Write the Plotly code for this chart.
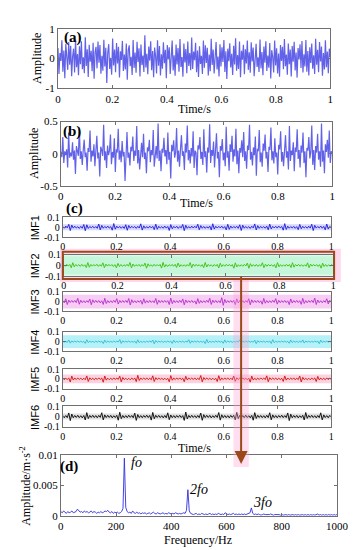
import numpy as np
import plotly.graph_objects as go

# ---------------- data (values read/estimated from the picture) ----------------
sig_a = [0.35,-0.52,0.18,-0.08,0.61,-0.44,0.27,-0.66,0.49,0.12,-0.38,0.55,-0.21,0.43,-0.59,0.07,0.33,-0.47,0.64,-0.29,
 0.15,-0.56,0.41,-0.19,0.58,-0.36,0.04,-0.49,0.71,-0.25,0.31,-0.62,0.46,-0.11,0.26,-0.43,0.53,-0.68,0.22,0.39,
 -0.33,0.57,-0.14,0.45,-0.51,0.09,-0.41,0.63,-0.27,0.36,-0.82,0.19,0.48,-0.35,0.02,-0.54,0.67,-0.23,0.3,-0.46,
 0.52,-0.17,0.39,-0.64,0.24,-0.05,0.59,-0.42,0.13,-0.37,0.5,-0.71,0.28,0.44,-0.26,0.06,-0.55,0.62,-0.32,0.2,
 -0.48,0.56,-0.12,0.34,-0.6,0.47,-0.22,0.1,-0.45,0.78,-0.3,0.16,-0.53,0.4,-0.07,0.58,-0.39,0.25,-0.63,0.37,
 0.08,-0.5,0.61,-0.24,0.42,-0.57,0.14,-0.34,0.54,-0.16,0.29,-0.66,0.45,-0.03,0.38,-0.52,0.21,0.6,-0.4,0.11,
 -0.58,0.47,-0.2,0.35,-0.44,0.65,-0.28,0.05,-0.61,0.5,-0.13,0.32,-0.49,0.57,-0.25,0.18,-0.39,0.7,-0.35,0.23,
 -0.06,0.53,-0.46,0.27,-0.62,0.41,-0.18,0.09,-0.52,0.6,-0.31,0.44,-0.15,0.36,-0.57,0.13,-0.43,0.66,-0.22,0.3,
 -0.5,0.19,0.55,-0.37,0.07,-0.6,0.48,-0.27,0.38,-0.12,0.62,-0.45,0.24,-0.69,0.33,-0.09,0.51,-0.3,0.16,-0.55,
 0.43,-0.2,0.68,-0.41,0.12,-0.35,0.57,-0.63,0.26,-0.04,0.46,-0.53,0.31,-0.17,0.6,-0.38,0.21,-0.48,0.54,-0.1,
 0.37,-0.59,0.15,0.49,-0.28,0.04,-0.45,0.64,-0.33,0.22,-0.56,0.4,-0.14,0.58,-0.42,0.1,-0.31,0.52,-0.67,0.28,
 0.06,-0.47,0.6,-0.23,0.34,-0.5,0.17,-0.61,0.45,-0.08,0.39,-0.36,0.65,-0.26,0.13,-0.54,0.5,-0.19,0.3,-0.6,
 0.42,-0.11,0.56,-0.4,0.2,-0.64,0.35,-0.03,0.48,-0.32,0.59,-0.47,0.14,-0.27,0.62,-0.44,0.25,-0.57,0.38,-0.15,
 0.5,-0.34,0.11,-0.52,0.66,-0.21,0.29,-0.46,0.55,-0.1,0.4,-0.58,0.18,-0.37,0.61,-0.29,0.23,-0.49,0.33,0.05]

sig_b = [0.03,-0.05,0.26,-0.14,0.04,-0.02,0.07,-0.21,0.33,-0.06,0.02,-0.04,0.18,-0.09,0.05,-0.31,0.12,0.03,-0.03,0.41,
 -0.08,0.04,-0.17,0.06,0.22,-0.05,0.02,-0.26,0.09,0.03,0.36,-0.12,0.05,-0.04,0.15,-0.19,0.04,0.28,-0.07,0.02,
 -0.35,0.11,0.06,-0.03,0.45,-0.1,0.04,-0.22,0.13,-0.02,0.05,0.3,-0.16,0.03,-0.06,0.24,-0.28,0.07,0.02,0.39,
 -0.09,0.05,-0.13,0.2,-0.04,0.03,-0.42,0.08,0.34,-0.06,0.02,-0.18,0.11,0.04,0.27,-0.11,0.05,-0.03,0.43,-0.15,
 0.06,-0.24,0.03,0.17,-0.05,0.31,-0.08,0.02,-0.3,0.1,0.04,0.22,-0.13,0.06,-0.02,0.37,-0.2,0.03,0.12,-0.07,
 0.47,-0.11,0.05,-0.27,0.08,0.02,0.25,-0.04,0.06,-0.16,0.33,-0.09,0.03,-0.38,0.14,0.04,0.21,-0.06,0.02,0.4,
 -0.12,0.05,-0.2,0.07,0.29,-0.03,0.04,-0.25,0.16,0.02,0.44,-0.1,0.06,-0.15,0.09,-0.04,0.35,-0.22,0.05,0.02,
 -0.33,0.13,0.07,0.26,-0.08,0.03,-0.17,0.38,-0.05,0.04,-0.29,0.1,0.02,0.46,-0.14,0.06,-0.03,0.19,-0.21,0.05,
 0.32,-0.07,0.03,-0.36,0.12,0.05,0.23,-0.1,0.02,-0.19,0.42,-0.06,0.04,-0.26,0.15,0.03,0.28,-0.12,0.07,-0.04,
 0.39,-0.16,0.05,-0.3,0.09,0.02,0.21,-0.05,0.34,-0.11,0.04,-0.23,0.13,0.06,0.45,-0.09,0.03,-0.18,0.1,-0.02,
 0.27,-0.34,0.08,0.04,0.37,-0.13,0.02,-0.2,0.16,0.05,0.3,-0.07,0.03,-0.28,0.11,0.06,0.41,-0.1,0.04,-0.15,
 0.24,-0.05,0.02,-0.32,0.14,0.07,0.35,-0.12,0.03,-0.19,0.08,0.29,-0.06,0.04,-0.24,0.43,-0.11,0.05,-0.02,0.18,
 -0.27,0.1,0.03,0.38,-0.08,0.06,-0.21,0.13,0.02,0.33,-0.14,0.04,-0.36,0.09,0.05,0.26,-0.07,0.03,0.44,-0.17,
 0.06,-0.25,0.12,0.02,0.31,-0.09,0.04,-0.2,0.47,-0.12,0.05,-0.3,0.15,0.03,0.22,-0.06,0.36,-0.14,0.04,0.02]

imf1 = [0.008,-0.01,0.012,-0.007,0.03,-0.034,0.022,-0.009,0.011,-0.008,0.006,-0.012,0.009,-0.01,0.028,-0.036,0.025,-0.012,0.008,-0.006,
 0.01,-0.009,0.007,-0.011,0.033,-0.027,0.019,-0.01,0.008,-0.007,0.012,-0.009,0.006,-0.03,0.038,-0.02,0.011,-0.008,0.009,-0.01,
 0.007,-0.012,0.026,-0.031,0.018,-0.009,0.01,-0.006,0.008,-0.011,0.009,-0.008,0.035,-0.029,0.014,-0.01,0.007,-0.009,0.011,-0.007,
 0.009,-0.024,0.032,-0.021,0.01,-0.008,0.006,-0.01,0.012,-0.009,0.008,-0.033,0.027,-0.015,0.009,-0.007,0.01,-0.012,0.008,-0.006,
 0.029,-0.035,0.02,-0.011,0.007,-0.009,0.011,-0.008,0.01,-0.007,0.031,-0.026,0.017,-0.01,0.008,-0.011,0.006,-0.009,0.012,-0.028,
 0.036,-0.019,0.01,-0.008,0.009,-0.007,0.011,-0.01,0.007,-0.027,0.03,-0.022,0.012,-0.009,0.008,-0.006,0.01,-0.011,0.025,-0.033,
 0.021,-0.01,0.008,-0.009,0.006,-0.012,0.01,-0.007,0.034,-0.028,0.016,-0.011,0.009,-0.008,0.007,-0.01,0.011,-0.026,0.032,-0.018,
 0.009,-0.007,0.01,-0.009,0.012,-0.006,0.008,-0.03,0.037,-0.023,0.011,-0.01,0.007,-0.008,0.009,-0.011,0.006,-0.025,0.029,-0.016,
 0.01,-0.008,0.007,-0.01,0.011,-0.009,0.031,-0.034,0.02,-0.009,0.008,-0.007,0.012,-0.01,0.009,-0.027,0.033,-0.019,0.008,-0.006]

imf2 = [0.006,-0.008,0.01,-0.007,0.009,-0.022,0.025,-0.014,0.008,-0.006,0.007,-0.009,0.01,-0.008,0.006,-0.02,0.026,-0.017,0.009,-0.007,
 0.008,-0.006,0.01,-0.009,0.007,-0.008,0.024,-0.021,0.012,-0.007,0.009,-0.006,0.008,-0.01,0.007,-0.023,0.019,-0.011,0.008,-0.009,
 0.006,-0.007,0.01,-0.008,0.027,-0.024,0.013,-0.009,0.007,-0.006,0.009,-0.01,0.008,-0.007,0.021,-0.026,0.015,-0.008,0.006,-0.009,
 0.01,-0.007,0.008,-0.006,0.009,-0.025,0.028,-0.016,0.008,-0.01,0.007,-0.006,0.009,-0.008,0.01,-0.019,0.022,-0.013,0.007,-0.008,
 0.006,-0.009,0.008,-0.007,0.026,-0.022,0.012,-0.008,0.01,-0.006,0.007,-0.009,0.008,-0.021,0.027,-0.015,0.009,-0.007,0.006,-0.01,
 0.008,-0.007,0.009,-0.024,0.02,-0.012,0.007,-0.008,0.01,-0.006,0.009,-0.007,0.008,-0.026,0.024,-0.014,0.006,-0.009,0.007,-0.008,
 0.01,-0.006,0.022,-0.027,0.016,-0.009,0.007,-0.008,0.009,-0.01,0.006,-0.007,0.025,-0.021,0.011,-0.008,0.009,-0.006,0.007,-0.009,
 0.008,-0.023,0.026,-0.013,0.007,-0.009,0.006,-0.008,0.01,-0.007,0.009,-0.02,0.025,-0.017,0.008,-0.006,0.01,-0.008,0.007,-0.009,
 0.006,-0.008,0.024,-0.022,0.012,-0.007,0.009,-0.006,0.008,-0.01,0.007,-0.026,0.021,-0.011,0.008,-0.009,0.006,-0.007,0.009,-0.006]

imf3 = [0.01,-0.012,0.028,-0.03,0.015,-0.009,0.011,-0.008,0.012,-0.01,0.033,-0.027,0.014,-0.011,0.009,-0.012,0.01,-0.008,0.026,-0.032,
 0.018,-0.01,0.012,-0.009,0.011,-0.013,0.008,-0.029,0.034,-0.02,0.01,-0.012,0.009,-0.011,0.013,-0.008,0.03,-0.025,0.012,-0.01,
 0.011,-0.009,0.012,-0.01,0.031,-0.035,0.019,-0.011,0.009,-0.012,0.01,-0.008,0.013,-0.027,0.029,-0.016,0.01,-0.011,0.012,-0.009,
 0.008,-0.012,0.032,-0.028,0.014,-0.01,0.011,-0.009,0.012,-0.008,0.01,-0.03,0.036,-0.021,0.012,-0.01,0.009,-0.011,0.013,-0.009,
 0.027,-0.033,0.017,-0.011,0.01,-0.009,0.012,-0.01,0.008,-0.026,0.03,-0.018,0.011,-0.012,0.009,-0.01,0.013,-0.008,0.034,-0.029,
 0.015,-0.01,0.012,-0.011,0.009,-0.013,0.04,-0.038,0.022,-0.012,0.01,-0.009,0.011,-0.008,0.012,-0.031,0.028,-0.014,0.01,-0.011,
 0.009,-0.012,0.01,-0.008,0.029,-0.033,0.018,-0.01,0.011,-0.009,0.012,-0.011,0.008,-0.027,0.032,-0.017,0.01,-0.012,0.009,-0.01,
 0.013,-0.008,0.03,-0.026,0.013,-0.011,0.01,-0.009,0.012,-0.01,0.008,-0.031,0.027,-0.015,0.011,-0.009,0.012,-0.01,0.009,-0.028,
 0.033,-0.019,0.01,-0.012,0.011,-0.008,0.013,-0.01,0.036,-0.03,0.016,-0.011,0.009,-0.012,0.01,-0.008,0.029,-0.024,0.012,-0.009]

imf4 = [0.005,-0.006,0.004,-0.007,0.018,-0.015,0.008,-0.005,0.006,-0.004,0.007,-0.005,0.005,-0.006,0.004,-0.017,0.02,-0.01,0.006,-0.005,
 0.004,-0.007,0.006,-0.005,0.007,-0.004,0.005,-0.019,0.016,-0.008,0.006,-0.005,0.004,-0.006,0.007,-0.005,0.006,-0.004,0.021,-0.018,
 0.009,-0.006,0.005,-0.004,0.007,-0.006,0.004,-0.005,0.006,-0.016,0.019,-0.011,0.005,-0.007,0.004,-0.006,0.005,-0.004,0.007,-0.005,
 0.017,-0.022,0.012,-0.006,0.005,-0.004,0.006,-0.007,0.004,-0.005,0.006,-0.005,0.007,-0.018,0.015,-0.008,0.004,-0.006,0.005,-0.004,
 0.006,-0.007,0.005,-0.004,0.02,-0.016,0.009,-0.005,0.006,-0.004,0.007,-0.006,0.004,-0.005,0.006,-0.019,0.023,-0.012,0.005,-0.006,
 0.004,-0.005,0.007,-0.004,0.006,-0.005,0.005,-0.017,0.018,-0.009,0.006,-0.004,0.005,-0.007,0.004,-0.006,0.005,-0.004,0.019,-0.015,
 0.008,-0.005,0.006,-0.004,0.007,-0.006,0.004,-0.005,0.016,-0.02,0.011,-0.006,0.005,-0.004,0.006,-0.007,0.005,-0.004,0.006,-0.018,
 0.021,-0.01,0.005,-0.006,0.004,-0.005,0.007,-0.004,0.006,-0.005,0.004,-0.016,0.017,-0.009,0.006,-0.005,0.004,-0.007,0.005,-0.006,
 0.018,-0.014,0.007,-0.004,0.005,-0.006,0.004,-0.005,0.007,-0.004,0.006,-0.02,0.016,-0.008,0.005,-0.004,0.006,-0.005,0.004,-0.006]

imf5 = [0.007,-0.009,0.006,-0.008,0.01,-0.032,0.028,-0.012,0.008,-0.007,0.009,-0.006,0.008,-0.01,0.007,-0.009,0.03,-0.026,0.011,-0.008,
 0.006,-0.009,0.008,-0.007,0.01,-0.006,0.008,-0.034,0.029,-0.013,0.007,-0.009,0.006,-0.008,0.01,-0.007,0.009,-0.006,0.027,-0.031,
 0.014,-0.008,0.007,-0.009,0.006,-0.01,0.008,-0.007,0.009,-0.028,0.036,-0.017,0.008,-0.006,0.009,-0.007,0.01,-0.008,0.006,-0.009,
 0.031,-0.027,0.012,-0.007,0.009,-0.006,0.008,-0.01,0.007,-0.009,0.006,-0.03,0.033,-0.014,0.008,-0.007,0.009,-0.006,0.01,-0.008,
 0.007,-0.029,0.026,-0.011,0.009,-0.006,0.008,-0.007,0.01,-0.009,0.006,-0.008,0.034,-0.03,0.013,-0.007,0.009,-0.006,0.008,-0.01,
 0.007,-0.009,0.006,-0.027,0.032,-0.015,0.008,-0.007,0.009,-0.006,0.01,-0.008,0.007,-0.009,0.029,-0.025,0.011,-0.006,0.008,-0.007,
 0.009,-0.006,0.008,-0.01,0.007,-0.033,0.028,-0.012,0.006,-0.009,0.008,-0.007,0.01,-0.006,0.009,-0.008,0.031,-0.029,0.012,-0.007,
 0.008,-0.006,0.009,-0.01,0.007,-0.008,0.006,-0.026,0.03,-0.013,0.009,-0.007,0.008,-0.006,0.01,-0.009,0.007,-0.008,0.028,-0.032,
 0.015,-0.008,0.006,-0.009,0.007,-0.01,0.008,-0.006,0.009,-0.027,0.025,-0.011,0.008,-0.007,0.006,-0.009,0.01,-0.008,0.007,-0.006]

imf6 = [0.01,-0.012,0.009,-0.011,0.035,-0.04,0.024,-0.012,0.01,-0.009,0.012,-0.011,0.008,-0.013,0.01,-0.034,0.038,-0.02,0.011,-0.009,
 0.012,-0.01,0.009,-0.012,0.011,-0.008,0.037,-0.033,0.016,-0.01,0.012,-0.009,0.011,-0.013,0.008,-0.01,0.012,-0.036,0.042,-0.021,
 0.01,-0.012,0.009,-0.011,0.013,-0.008,0.01,-0.012,0.033,-0.038,0.019,-0.011,0.009,-0.012,0.01,-0.008,0.013,-0.01,0.011,-0.035,
 0.04,-0.022,0.012,-0.009,0.011,-0.01,0.008,-0.013,0.01,-0.012,0.036,-0.031,0.015,-0.011,0.009,-0.012,0.01,-0.008,0.012,-0.01,
 0.009,-0.038,0.044,-0.024,0.011,-0.01,0.012,-0.009,0.008,-0.012,0.01,-0.011,0.034,-0.037,0.018,-0.01,0.012,-0.009,0.011,-0.013,
 0.008,-0.01,0.012,-0.009,0.039,-0.035,0.017,-0.012,0.01,-0.011,0.009,-0.013,0.011,-0.008,0.012,-0.033,0.041,-0.02,0.01,-0.012,
 0.009,-0.011,0.013,-0.01,0.008,-0.012,0.011,-0.036,0.038,-0.019,0.012,-0.009,0.01,-0.011,0.008,-0.013,0.012,-0.01,0.037,-0.032,
 0.016,-0.011,0.009,-0.012,0.01,-0.008,0.013,-0.011,0.009,-0.01,0.035,-0.04,0.023,-0.012,0.01,-0.009,0.011,-0.013,0.008,-0.01,
 0.012,-0.034,0.039,-0.018,0.011,-0.009,0.012,-0.01,0.008,-0.013,0.01,-0.011,0.036,-0.033,0.016,-0.01,0.009,-0.012,0.011,-0.008]

# envelope spectrum, 0..1000 Hz
spec = [0.0007,0.0005,0.0008,0.0006,0.0004,0.0007,0.0005,0.0006,0.0008,0.0005,0.0006,0.0007,0.0011,0.0008,0.0006,0.0007,0.0005,0.0008,0.0006,0.0007,
 0.0005,0.0006,0.0008,0.0005,0.0007,0.0006,0.0004,0.0006,0.0005,0.0007,0.0005,0.0006,0.0008,0.0007,0.0009,0.0006,0.0005,0.0007,0.0004,0.0006,
 0.0005,0.0006,0.0004,0.0005,0.0007,0.0012,0.0095,0.0014,0.0007,0.0005,0.0006,0.0004,0.0008,0.0005,0.0004,0.0006,0.0004,0.0005,0.0003,0.0005,
 0.0004,0.0005,0.0003,0.0004,0.0005,0.0003,0.0004,0.0006,0.0004,0.0003,0.0005,0.0004,0.0003,0.0004,0.0005,0.0003,0.0004,0.0003,0.0005,0.0004,
 0.0003,0.0004,0.0003,0.0005,0.0004,0.0003,0.0004,0.0003,0.0004,0.0005,0.0004,0.0009,0.0043,0.0008,0.0004,0.0003,0.0002,0.0003,0.0004,0.0002,
 0.0003,0.0002,0.0004,0.0003,0.0002,0.0003,0.0002,0.0003,0.0004,0.0002,0.0003,0.0002,0.0003,0.0002,0.0004,0.0003,0.0002,0.0003,0.0002,0.0005,
 0.0003,0.0002,0.0003,0.0002,0.0003,0.0004,0.0002,0.0003,0.0002,0.0003,0.0002,0.0003,0.0002,0.0003,0.0002,0.0003,0.0004,0.0005,0.0013,0.0004,
 0.0002,0.0003,0.0002,0.0003,0.0002,0.0001,0.0002,0.0003,0.0002,0.0002,0.0001,0.0002,0.0003,0.0002,0.0001,0.0002,0.0002,0.0003,0.0002,0.0001,
 0.0002,0.0001,0.0002,0.0002,0.0001,0.0002,0.0001,0.0002,0.0002,0.0001,0.0002,0.0001,0.0002,0.0001,0.0002,0.0002,0.0001,0.0002,0.0001,0.0002,
 0.0001,0.0002,0.0001,0.0002,0.0001,0.0002,0.0003,0.0001,0.0002,0.0001,0.0002,0.0001,0.0002,0.0001,0.0002,0.0001,0.0002,0.0001,0.0002,0.0001,
 0.0002]

imf_names = ["IMF1", "IMF2", "IMF3", "IMF4", "IMF5", "IMF6"]
time_ticks = [0, 0.2, 0.4, 0.6, 0.8, 1]
time_tick_text = ["0", "0.2", "0.4", "0.6", "0.8", "1"]
freq_ticks = [0, 200, 400, 600, 800, 1000]
peak_labels = ["fo", "2fo", "3fo"]

# ---------------- layout helpers ----------------
W, H = 364, 550
SERIF = "Liberation Serif"
SANS = "Liberation Sans"

def px(x):
    return x / W

def py(y):
    return 1 - y / H

# panel boxes in pixels: (left, right, top, bottom)
boxes = {
    "a": (49, 333, 15, 76),
    "b": (52, 335, 110, 176),
    "i1": (54, 334, 208, 228),
    "i2": (55, 336, 246, 268),
    "i3": (54, 334, 284, 304),
    "i4": (54, 334, 325, 345),
    "i5": (54, 334, 363, 383),
    "i6": (54, 334, 401, 422),
    "d": (52, 340, 451, 513),
}
order = ["a", "b", "i1", "i2", "i3", "i4", "i5", "i6", "d"]

fig = go.Figure()
layout = {}

for k, key in enumerate(order):
    n = "" if k == 0 else str(k + 1)
    l, r, t, b = boxes[key]
    fs = 10 if key.startswith("i") else 11
    common = dict(showline=True, linecolor="#707070", linewidth=1, mirror="allticks",
                  ticks="inside", ticklen=3, tickcolor="#707070", showgrid=False,
                  zeroline=False, tickfont=dict(family=SERIF, size=fs, color="black"))
    xa = dict(domain=[px(l), px(r)], anchor="y" + n, **common)
    ya = dict(domain=[py(b), py(t)], anchor="x" + n, **common)
    if key == "d":
        xa.update(range=[0, 1000], tickvals=freq_ticks)
        ya.update(range=[0, 0.01], tickvals=[0, 0.005, 0.01], ticktext=["0", "0.005", "0.01"])
    else:
        xa.update(range=[0, 1], tickvals=time_ticks, ticktext=time_tick_text)
        if key == "a":
            ya.update(range=[-1, 1], tickvals=[-1, 0, 1], ticktext=["-1", "0", "1"])
        elif key == "b":
            ya.update(range=[-0.5, 0.5], tickvals=[-0.5, 0, 0.5], ticktext=["-0.5", "0", "0.5"])
        else:
            ya.update(range=[-0.1, 0.1], tickvals=[-0.1, 0, 0.1], ticktext=["-0.1", "0", "0.1"])
    layout["xaxis" + n] = xa
    layout["yaxis" + n] = ya

def add_line(key_idx, yvals, color, width=0.8, xvals=None):
    n = "" if key_idx == 0 else str(key_idx + 1)
    if xvals is None:
        xvals = np.linspace(0, 1, len(yvals))
    fig.add_trace(go.Scatter(x=xvals, y=yvals, mode="lines",
                             line=dict(color=color, width=width),
                             xaxis="x" + n, yaxis="y" + n, showlegend=False,
                             hoverinfo="skip"))

add_line(0, sig_a, "rgba(45,45,225,0.75)", 1.2)
add_line(1, sig_b, "rgba(45,45,225,0.75)", 1.2)
imf_data = [imf1, imf2, imf3, imf4, imf5, imf6]
imf_colors = ["#2a2ad8", "#46c41a", "#b83ad0", "#35c0d8", "#d41e1e", "#151515"]
for i, (d, c) in enumerate(zip(imf_data, imf_colors)):
    add_line(i + 2, d, c, 1.0)
add_line(8, spec, "#3030e0", 0.9, xvals=np.linspace(0, 1000, len(spec)))

shapes = []
# light halo bands behind the IMFs
bands = [("rgba(140,140,255,0.35)", 0.03), ("#c6f6da", 0.085), ("#f8cdf3", 0.07),
         ("#b6f1f8", 0.065), ("#fbd3df", 0.045), ("rgba(150,150,150,0.3)", 0.03)]
for i, (col, h) in enumerate(bands):
    n = str(i + 3)
    shapes.append(dict(type="rect", xref="x" + n, yref="y" + n, x0=0, x1=1, y0=-h, y1=h,
                       fillcolor=col, line=dict(width=0), layer="below"))
# pink glow around highlighted IMF2 box
shapes.append(dict(type="rect", xref="paper", yref="paper", x0=px(51), x1=px(344),
                   y0=py(274), y1=py(240), fillcolor="rgba(255,190,225,0.6)",
                   line=dict(width=0), layer="below"))
shapes.append(dict(type="rect", xref="x4 domain", yref="y4 domain", x0=0, x1=1, y0=0, y1=1,
                   fillcolor="#dcfbe9", line=dict(width=0), layer="below"))
# brown box around IMF2
shapes.append(dict(type="rect", xref="paper", yref="paper", x0=px(54), x1=px(337),
                   y0=py(271), y1=py(243), line=dict(color="#9a4a18", width=2)))
# pink vertical band along the arrow
shapes.append(dict(type="rect", xref="paper", yref="paper", x0=px(232), x1=px(248),
                   y0=py(463), y1=py(272), fillcolor="rgba(255,160,210,0.35)",
                   line=dict(width=0), layer="above"))

ann = []
def text(x, y, s, size=12, family=SERIF, angle=0, xanchor="center", **kw):
    ann.append(dict(x=px(x), y=py(y), xref="paper", yref="paper", text=s, showarrow=False,
                    font=dict(family=family, size=size, color="black"), textangle=angle,
                    xanchor=xanchor, yanchor="middle", **kw))

text(27, 45, "Amplitude", angle=-90)
text(24, 143, "Amplitude", angle=-90)
text(191, 97, "Time/s")
text(193, 193, "Time/s")
text(191, 444, "Time/s")
text(195, 538, "Frequency/Hz")
text(15, 482, "Amplitude/m·s<sup>-2</sup>", angle=-90)
text(65, 24, "<b>(a)</b>", size=15)
text(64, 120, "<b>(b)</b>", size=15)
text(66, 199, "<b>(c)</b>", size=15)
text(61, 463, "<b>(d)</b>", size=15)
imf_centers = [218, 257, 294, 335, 373, 412]
for name, yc in zip(imf_names, imf_centers):
    text(25, yc, name, size=11, family=SANS, angle=-90)

# peak labels on spectrum
label_pos = [(123, 459), (185, 486), (250, 499)]
for lab, (lx, ly) in zip(peak_labels, label_pos):
    text(lx, ly, "<i>" + lab + "</i>", size=14, xanchor="left")

# brown arrow from IMF2 box down to spectrum
ann.append(dict(x=px(240), y=py(460), xref="paper", yref="paper", ax=0, ay=-(460 - 271),
                showarrow=True, arrowhead=2, arrowsize=1.3,
                arrowwidth=2, arrowcolor="#9a4a18", text=""))

fig.update_layout(width=W, height=H, margin=dict(l=0, r=0, t=0, b=0),
                  paper_bgcolor="white", plot_bgcolor="rgba(0,0,0,0)",
                  shapes=shapes, annotations=ann, showlegend=False, **layout)

fig.write_html("out.html")
